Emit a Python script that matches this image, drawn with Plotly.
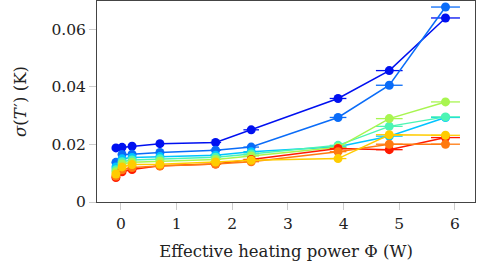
import plotly.graph_objects as go

phi = [-0.09, 0.02, 0.2, 0.7, 1.7, 2.34, 3.9, 4.82, 5.83]
phi_err = [0.02, 0.02, 0.03, 0.05, 0.1, 0.14, 0.15, 0.24, 0.26]

series_names = ["S1", "S2", "S3", "S4", "S5", "S6", "S7", "S8"]
series_colors = ["#0010f0", "#0a6cf8", "#00c4ff", "#4cf5b4", "#a8f550", "#ffcc00", "#ff7a10", "#ff1a00"]
sigma = [
    [0.0188, 0.0190, 0.0194, 0.0203, 0.0207, 0.0251, 0.0360, 0.0457, 0.0640],
    [0.0138, 0.0165, 0.0166, 0.0172, 0.0180, 0.0191, 0.0294, 0.0406, 0.0678],
    [0.0122, 0.0150, 0.0155, 0.0158, 0.0163, 0.0175, 0.0192, 0.0229, 0.0294],
    [0.0112, 0.0140, 0.0146, 0.0150, 0.0156, 0.0167, 0.0197, 0.0263, 0.0296],
    [0.0105, 0.0132, 0.0138, 0.0142, 0.0148, 0.0160, 0.0190, 0.0290, 0.0348],
    [0.0097, 0.0122, 0.0130, 0.0131, 0.0139, 0.0145, 0.0151, 0.0234, 0.0232],
    [0.0090, 0.0112, 0.0120, 0.0125, 0.0132, 0.0140, 0.0175, 0.0201, 0.0201],
    [0.0085, 0.0105, 0.0113, 0.0126, 0.0132, 0.0148, 0.0186, 0.0182, 0.0224],
]

draw_order = [0, 1, 2, 3, 4, 7, 6, 5]

fig = go.Figure()
for i in draw_order:
    fig.add_trace(go.Scatter(
        x=phi, y=sigma[i], name=series_names[i], mode="lines+markers",
        line=dict(color=series_colors[i], width=1.5),
        marker=dict(color=series_colors[i], size=9, symbol="circle"),
        error_x=dict(type="data", array=phi_err, color=series_colors[i],
                     thickness=1.3, width=0),
    ))

font_family = "DejaVu Serif, serif"
fig.update_layout(
    width=478, height=269,
    margin=dict(l=97, r=3, t=1, b=67),
    paper_bgcolor="white", plot_bgcolor="white",
    showlegend=False,
    font=dict(family=font_family, size=15.5, color="#222"),
)
fig.update_xaxes(
    range=[-0.43, 6.36], tickvals=[0, 1, 2, 3, 4, 5, 6],
    showgrid=False, zeroline=False,
    showline=True, linecolor="#444", linewidth=1, mirror=True,
    ticks="outside", ticklen=7, tickcolor="#cccccc", tickwidth=1,
    title=dict(text="Effective heating power Φ (W)", font=dict(size=16.5), standoff=13),
)
fig.update_yaxes(
    range=[0, 0.0699], tickvals=[0, 0.02, 0.04, 0.06],
    ticktext=["0", "0.02", "0.04", "0.06"],
    showgrid=False, zeroline=False,
    showline=True, linecolor="#444", linewidth=1, mirror=True,
    ticks="outside", ticklen=7, tickcolor="#cccccc", tickwidth=1,
    title=dict(text="<i>σ</i>(<i>T</i>\u200a′) (K)", font=dict(size=16.5), standoff=20),
)

fig.write_html("out.html")
